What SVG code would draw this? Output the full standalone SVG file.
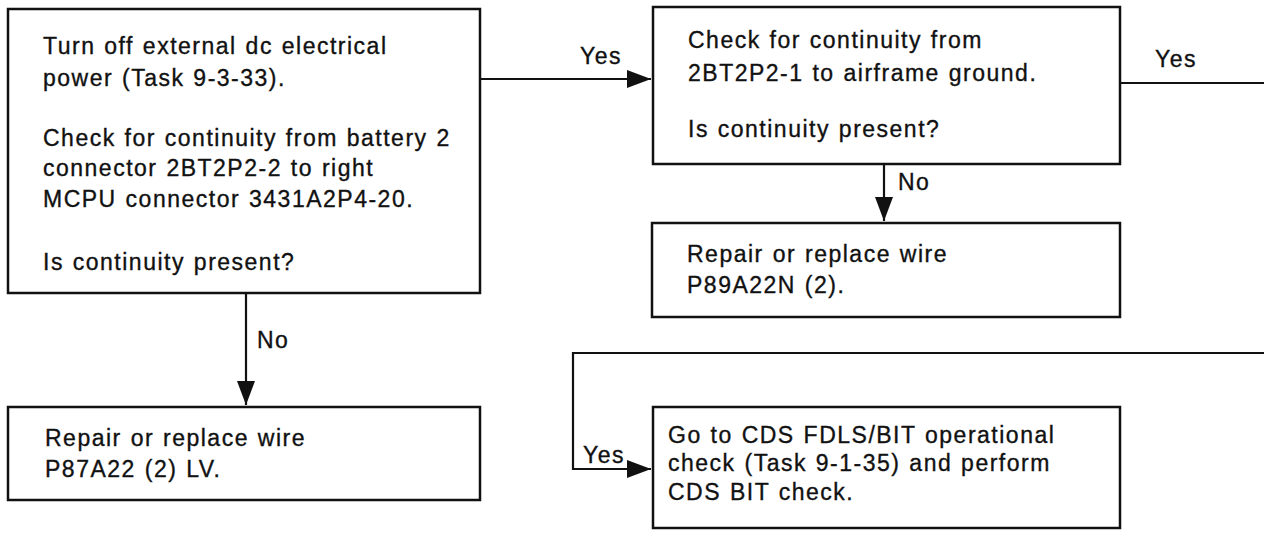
<svg xmlns="http://www.w3.org/2000/svg" width="1264" height="533" viewBox="0 0 1264 533">
<style>
.box{fill:#fff;stroke:#111;stroke-width:2.5}
.t{font-family:"Liberation Sans",Arial,sans-serif;font-size:23px;letter-spacing:1.5px;word-spacing:1px;fill:#111;stroke:#111;stroke-width:0.35}
.c{fill:none;stroke:#111;stroke-width:2.2}
</style>
<defs>
<marker id="ah" markerUnits="userSpaceOnUse" markerWidth="26" markerHeight="20" refX="24" refY="9" orient="auto">
<path d="M0,0 L24,9 L0,18 Z" fill="#111"/>
</marker>
</defs>
<g id="connectors">
<path class="c" d="M480,79 H651" marker-end="url(#ah)"/>
<text class="t" x="580" y="64">Yes</text>
<path class="c" d="M1120,83 H1264"/>
<text class="t" x="1155" y="67">Yes</text>
<path class="c" d="M884,164 V221" marker-end="url(#ah)"/>
<text class="t" x="898" y="190">No</text>
<path class="c" d="M246,293 V405" marker-end="url(#ah)"/>
<text class="t" x="257" y="348">No</text>
<path class="c" d="M1264,353 H573 V469 H651" marker-end="url(#ah)"/>
<text class="t" x="583" y="463">Yes</text>
</g>
<g id="nodeA">
<rect class="box" x="8" y="9" width="472" height="284"/>
<text class="t" x="43" y="54">Turn off external dc electrical</text>
<text class="t" x="43" y="86">power (Task 9-3-33).</text>
<text class="t" x="43" y="146">Check for continuity from battery 2</text>
<text class="t" x="43" y="176">connector 2BT2P2-2 to right</text>
<text class="t" x="43" y="207">MCPU connector 3431A2P4-20.</text>
<text class="t" x="43" y="270">Is continuity present?</text>
</g>
<g id="nodeB">
<rect class="box" x="653" y="7" width="467" height="157"/>
<text class="t" x="688" y="48">Check for continuity from</text>
<text class="t" x="688" y="81">2BT2P2-1 to airframe ground.</text>
<text class="t" x="688" y="137">Is continuity present?</text>
</g>
<g id="nodeC">
<rect class="box" x="652" y="223" width="468" height="94"/>
<text class="t" x="687" y="262">Repair or replace wire</text>
<text class="t" x="687" y="293">P89A22N (2).</text>
</g>
<g id="nodeD">
<rect class="box" x="8" y="407" width="472" height="93"/>
<text class="t" x="45" y="446">Repair or replace wire</text>
<text class="t" x="45" y="477">P87A22 (2) LV.</text>
</g>
<g id="nodeE">
<rect class="box" x="653" y="407" width="467" height="121"/>
<text class="t" x="668" y="443">Go to CDS FDLS/BIT operational</text>
<text class="t" x="668" y="471">check (Task 9-1-35) and perform</text>
<text class="t" x="668" y="500">CDS BIT check.</text>
</g>
</svg>
